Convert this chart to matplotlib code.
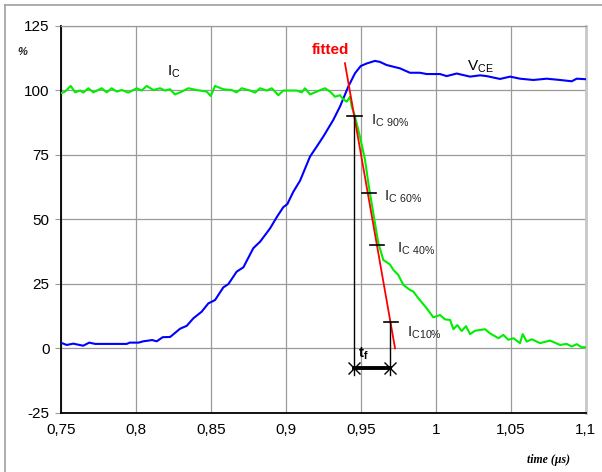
import matplotlib
matplotlib.use("Agg")
import matplotlib.pyplot as plt
from matplotlib.lines import Line2D

plt.rcParams['font.family'] = ['Liberation Sans', 'DejaVu Sans']
plt.rcParams['axes.unicode_minus'] = False

# ---------------- data ----------------
vce_t = [0.75, 0.754, 0.7584, 0.765, 0.769, 0.773, 0.794, 0.796, 0.802, 0.805, 0.811, 0.814,
         0.818, 0.823, 0.8296, 0.834, 0.8384, 0.844, 0.8484, 0.8529, 0.8584, 0.8618, 0.8673,
         0.8718, 0.8784, 0.8829, 0.8896, 0.894, 0.8984, 0.9011, 0.9051, 0.9096, 0.9162, 0.9207,
         0.925, 0.9317, 0.9362, 0.9417, 0.9462, 0.95, 0.954, 0.9595, 0.9628, 0.9673, 0.9762,
         0.9828, 0.9895, 0.994, 1.0029, 1.0073, 1.014, 1.0229, 1.0296, 1.034, 1.0429, 1.0496,
         1.0562, 1.0651, 1.074, 1.0829, 1.0907, 1.094, 1.1]
vce_v = [2.2, 1.3, 1.8, 1.0, 2.2, 1.7, 1.7, 2.2, 2.2, 2.7, 3.2, 2.7,
         4.3, 4.4, 7.6, 8.7, 11.6, 14.2, 17.4, 18.7, 23.6, 24.9, 29.7,
         31.4, 38.8, 41.3, 46.5, 50.8, 54.7, 55.9, 60.7, 65.0, 74.3, 78.2,
         82.0, 88.5, 93.7, 101.4, 106.6, 109.4, 110.4, 111.4, 111.0, 109.8, 108.5,
         106.8, 106.8, 106.3, 106.3, 105.5, 106.5, 105.3, 105.8, 105.5, 104.4, 105.3,
         104.5, 104.0, 104.5, 104.0, 103.5, 104.5, 104.3]

ic_t = [0.75, 0.7529, 0.7567, 0.7596, 0.7629, 0.7651, 0.7684, 0.7718, 0.7773, 0.7807, 0.784,
        0.7873, 0.7907, 0.7951, 0.8007, 0.804, 0.8073, 0.8118, 0.8162, 0.8196, 0.8229, 0.8262,
        0.8307, 0.8351, 0.8407, 0.8473, 0.85, 0.8529, 0.8584, 0.864, 0.8673, 0.8707, 0.8762,
        0.8796, 0.8829, 0.8873, 0.8907, 0.8951, 0.8984, 0.9073, 0.9107, 0.9129, 0.9162, 0.9207,
        0.9262, 0.9296, 0.9329, 0.9362, 0.9384, 0.9407, 0.9429, 0.944, 0.9462, 0.9495, 0.9529,
        0.9551, 0.9573, 0.9595, 0.9618, 0.9651, 0.9695, 0.9718, 0.9751, 0.9784, 0.9829, 0.9851,
        0.9884, 0.994, 0.9984, 1.0029, 1.0062, 1.0096, 1.0118, 1.0144, 1.0173, 1.0202, 1.0229,
        1.0262, 1.0329, 1.0362, 1.0418, 1.0451, 1.0484, 1.0518, 1.0562, 1.058, 1.0607, 1.064,
        1.0696, 1.0762, 1.0829, 1.0873, 1.0907, 1.094, 1.0973, 1.1]
ic_v = [98.8, 99.5, 101.7, 99.2, 99.9, 99.1, 100.8, 99.2, 100.8, 99.2, 100.8,
        99.5, 100.1, 99.1, 100.8, 99.9, 101.7, 100.1, 100.8, 99.9, 100.4, 98.4,
        99.5, 100.8, 100.1, 99.5, 97.8, 101.7, 100.4, 100.1, 99.2, 100.8, 99.9,
        99.1, 100.8, 99.9, 100.8, 98.1, 99.9, 99.9, 99.2, 100.8, 98.4, 99.5,
        100.8, 99.5, 97.5, 98.1, 96.5, 95.6, 97.5, 93.7, 89.8, 82.0, 73.0,
        64.0, 56.2, 48.5, 40.7, 34.2, 32.5, 30.4, 28.4, 24.6, 22.6, 22.0,
        19.4, 15.5, 12.0, 12.9, 11.2, 11.0, 7.4, 9.0, 6.7, 8.6, 5.5,
        6.8, 7.4, 5.8, 3.9, 5.2, 3.3, 3.9, 2.0, 5.5, 2.6, 3.5,
        2.0, 3.0, 1.3, 1.7, 0.7, 1.6, 0.4, 0.4]

fit_t = [0.9395, 0.9729]
fit_v = [110.5, 0.0]

# level markers (IC 90 %, 60 %, 40 %, 10 %)
mark_labels = ["90%", "60%", "40%", "10%"]
mark_t = [0.946, 0.9555, 0.961, 0.9702]
mark_v = [90, 60, 40, 10]
tf_start = 0.9455
tf_end = 0.9695
tf_level = -7.8

x_ticks = [0.75, 0.8, 0.85, 0.9, 0.95, 1.0, 1.05, 1.1]
x_labels = ["0,75", "0,8", "0,85", "0,9", "0,95", "1", "1,05", "1,1"]
y_ticks = [-25, 0, 25, 50, 75, 100, 125]

# ---------------- figure ----------------
fig = plt.figure(figsize=(6.02, 4.72), dpi=100)
ax = fig.add_axes([60.7 / 602, 1 - 412.8 / 472, (585.7 - 60.7) / 602, (412.8 - 25.8) / 472])

ax.set_xlim(0.75, 1.1)
ax.set_ylim(-25, 125)
ax.set_xticks(x_ticks)
ax.set_xticklabels(x_labels)
ax.set_yticks(y_ticks)
ax.grid(True, color='#9a9a9a', lw=0.9)
ax.set_axisbelow(True)
ax.tick_params(axis='x', length=0, pad=7, labelsize=11)
ax.tick_params(axis='y', length=4, color='#9a9a9a', pad=4, labelsize=11)
for s in ['top', 'right']:
    ax.spines[s].set_color('#9a9a9a')
    ax.spines[s].set_linewidth(0.9)
ax.spines['right'].set_color('#c8c8c8')
ax.spines['right'].set_linewidth(2)
for s in ['left', 'bottom']:
    ax.spines[s].set_color('black')
    ax.spines[s].set_linewidth(1.3)

ax.plot(vce_t, vce_v, color='#0000ff', lw=1.5, zorder=3)
ax.plot(ic_t, ic_v, color='#00ee00', lw=1.5, zorder=3)
ax.plot(fit_t, fit_v, color='#ff0000', lw=1.3, zorder=4)

# markers
half = 0.0048
for t, v in zip(mark_t, mark_v):
    ax.plot([t - half, t + half], [v, v], color='black', lw=1.2, zorder=5)
ax.plot([tf_start, tf_start], [mark_v[0], tf_level - 2.5], color='black', lw=1.0, zorder=5)
ax.plot([tf_end, tf_end], [mark_v[3], tf_level - 2.5], color='black', lw=1.0, zorder=5)
ax.plot([tf_start, tf_end], [tf_level, tf_level], color='black', lw=2.8, zorder=5,
        marker='x', markersize=8, markeredgewidth=1.0)

# texts
ax.text(0.8207, 107.2, r"I$_\mathregular{C}$", fontsize=11, ha='left', va='center')
ax.text(1.0207, 109.1, r"V$_\mathregular{CE}$", fontsize=11, ha='left', va='center')
ax.text(0.9295, 115.8, "fitted", color='#ff0000', fontsize=11, fontweight='bold',
        ha='center', va='center')
lab_pos = [(0.9567, 88.3), (0.9655, 58.6), (0.974, 38.6), (0.9807, 6.2)]
for (tx, vy), lab in zip(lab_pos, mark_labels):
    sep = r"\ " if lab != "10%" else ""
    ax.text(tx, vy, r"I$_\mathregular{C" + sep + lab.replace("%", r"\%") + "}$",
            fontsize=11, ha='left', va='center', color='#222222')
ax.text(0.9482, -2.2, r"t$_\mathregular{f}$", fontsize=11, fontweight='bold',
        ha='left', va='center')

fig.text(22 / 602, 1 - 52 / 472, "%", fontsize=8, fontstyle='italic', fontweight='bold',
         ha='center', va='center', color='#222222')
fig.text(570 / 602, 1 - 460 / 472, "time (µs)", fontsize=8.5, fontstyle='italic',
         fontweight='bold', family='Liberation Serif', ha='right', va='center')

# figure frame (left and top only visible)
fig.add_artist(Line2D([4.5 / 602, 4.5 / 602], [0, 1 - 4.5 / 472], transform=fig.transFigure,
                      color='#a0a0a0', lw=1.2))
fig.add_artist(Line2D([4.5 / 602, 1], [1 - 4.5 / 472, 1 - 4.5 / 472], transform=fig.transFigure,
                      color='#a0a0a0', lw=1.2))

fig.savefig("out.png", dpi=100)
